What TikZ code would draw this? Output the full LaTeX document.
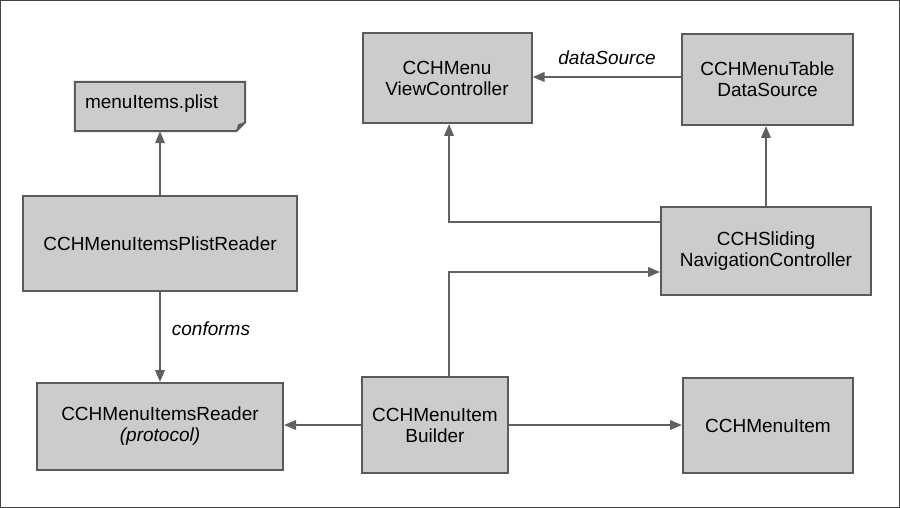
\documentclass[tikz,border=0pt]{standalone}
\usepackage{fontspec}
\setmainfont{Liberation Sans}
\usetikzlibrary{arrows.meta}
\definecolor{boxfill}{HTML}{CCCCCC}
\definecolor{boxline}{HTML}{5A5A5A}
\definecolor{arrowc}{HTML}{606060}
\definecolor{frameline}{HTML}{444444}
\begin{document}
\begin{tikzpicture}[x=1pt,y=-1pt,
  box/.style={draw=boxline, fill=boxfill, line width=2pt, inner sep=0pt,
    align=center, font=\fontsize{19}{21}\selectfont},
  arr/.style={draw=arrowc, line width=2pt, -{Triangle[length=12pt,width=9.5pt]}},
  lbl/.style={font=\fontsize{19}{21}\selectfont\itshape, text=black}]
\useasboundingbox (0,0) rectangle (900,508);
\draw[frameline, line width=1pt] (0.5,0.5) rectangle (899.5,507.5);

% menuItems.plist (folded corner)
\node[minimum width=170pt, minimum height=49pt, inner sep=0pt] (plist) at (160,106.5) {};
\draw[draw=boxline, fill=boxfill, line width=2pt, line join=miter]
  (plist.north west) -- (plist.north east) -- ([yshift=9pt]plist.south east)
  -- ([xshift=-9pt]plist.south east) -- (plist.south west) -- cycle;
\fill[boxline] ([yshift=9pt]plist.south east) -- ([xshift=-9pt]plist.south east)
  -- ([xshift=-7pt,yshift=7pt]plist.south east) -- cycle;
\node[anchor=west, inner sep=0pt, font=\fontsize{19}{21}\selectfont] (plisttext)
  at ([xshift=10pt,yshift=2.5pt]plist.west) {menuItems.plist};

\node[box, minimum width=274pt, minimum height=95pt] (pr) at (160,243.5) {CCHMenuItemsPlistReader};
\node[box, minimum width=246pt, minimum height=87pt] (rd) at (160,426.5) {CCHMenuItemsReader\\\itshape(protocol)};
\node[box, minimum width=146pt, minimum height=96pt] (b) at (435,425) {CCHMenuItem\\Builder};
\node[box, minimum width=170pt, minimum height=95pt] (mi) at (768,425.5) {CCHMenuItem};
\node[box, minimum width=169pt, minimum height=90pt] (vc) at (447,78) {CCHMenu\\ViewController};
\node[box, minimum width=171pt, minimum height=91pt] (ds) at (767.5,79.5) {CCHMenuTable\\DataSource};
\node[box, minimum width=210pt, minimum height=88pt] (nav) at (766,251) {CCHSliding\\NavigationController};

% connectors
\draw[arr] (pr.north) -- (plist.south);
\draw[arr] (pr.south) -- (pr.south |- rd.north);
\node[lbl] (conf) at (211,329) {conforms};
\draw[arr] (b.west) -- (b.west -| rd.east);
\draw[arr] (b.east) -- (b.east -| mi.west);
\draw[arr] ([xshift=14pt]b.north) |- ([yshift=-21pt]nav.west);
\draw[arr] ([yshift=29pt]nav.west) -| ([xshift=2pt]vc.south);
\draw[arr] (nav.north) -- (nav.north |- ds.south);
\draw[arr] ([yshift=2.5pt]ds.west) -- ([yshift=2.5pt]ds.west -| vc.east);
\node[lbl] (dsl) at (607,58) {dataSource};
\end{tikzpicture}
\end{document}
